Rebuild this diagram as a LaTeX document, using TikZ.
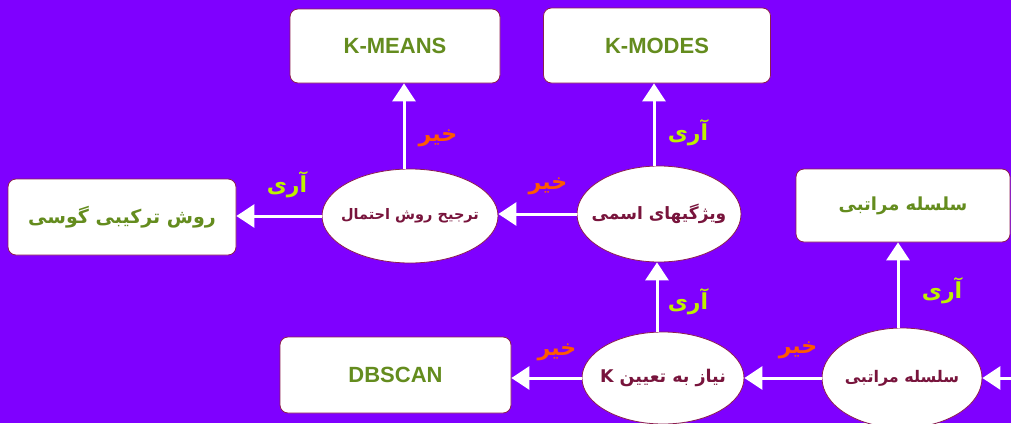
\documentclass[tikz,border=0pt]{standalone}
\usepackage{fontspec}
\setmainfont{Liberation Sans}
\newfontfamily\fa[Script=Arabic]{DejaVu Sans}
\TeXXeTstate=1
\usetikzlibrary{arrows.meta,shapes.geometric}
\definecolor{bg}{RGB}{127,0,255}
\definecolor{edgec}{RGB}{140,30,80}
\definecolor{boxtxt}{RGB}{100,140,30}
\definecolor{elltxt}{RGB}{120,20,60}
\definecolor{nolbl}{RGB}{255,90,0}
\definecolor{yeslbl}{RGB}{190,240,0}
\tikzset{
  resbox/.style={draw=edgec, line width=0.8pt, fill=white, rounded corners=8pt,
    inner sep=0pt, text=boxtxt, font=\bfseries\fontsize{22}{26}\selectfont},
  question/.style={ellipse, draw=edgec, line width=0.8pt, fill=white, inner sep=0pt},
  qtext/.style={text=elltxt, inner sep=0pt, font=\fa\bfseries\fontsize{#1}{20}\selectfont},
  arr/.style={draw=white, line width=3pt, -{Triangle[width=23pt,length=18pt,fill=white]}},
  nolabel/.style={text=nolbl, font=\fa\bfseries\fontsize{22}{26}\selectfont, inner sep=0pt},
  yeslabel/.style={text=yeslbl, font=\fa\bfseries\fontsize{22}{26}\selectfont, inner sep=0pt},
}
\begin{document}
\begin{tikzpicture}[x=1pt,y=-1pt]
  \fill[bg] (0,0) rectangle (1011,423);
  \useasboundingbox (0,0) rectangle (1011,423);
  \clip (0,0) rectangle (1011,423);

  % result boxes
  \node[resbox, minimum width=210, minimum height=74] (kmeans) at (395,46) {K-MEANS};
  \node[resbox, minimum width=227, minimum height=75] (kmodes) at (657,45.5) {K-MODES};
  \node[resbox, minimum width=228, minimum height=76, font=\fa\bfseries\fontsize{19}{24}\selectfont] (gauss) at (122,217) {\beginR روش ترکیبی گوسی\endR};
  \node[resbox, minimum width=214, minimum height=73, font=\fa\bfseries\fontsize{18}{24}\selectfont] (hier) at (903,205.5) {\beginR سلسله مراتبی\endR};
  \node[resbox, minimum width=231, minimum height=76] (dbscan) at (395.5,375) {DBSCAN};

  % decision ellipses (text set as a centred label so the outline keeps its size)
  \node[question, minimum width=176, minimum height=94,
        label={[qtext=14.5]center:{\beginR ترجیح روش احتمال\endR}}] (prob) at (410,216) {};
  \node[question, minimum width=164, minimum height=96,
        label={[qtext=17]center:{\beginR ویژگیهای اسمی\endR}}] (nominal) at (659,214) {};
  \node[question, minimum width=162, minimum height=92,
        label={[qtext=17.5]center:{\beginR نیاز به تعیین K\endR}}] (needk) at (663,378) {};
  \node[question, minimum width=160, minimum height=100,
        label={[qtext=16]center:{\beginR سلسله مراتبی\endR}}] (ishier) at (902,378) {};
  \coordinate (entry) at (1030,378);

  % connectors
  \draw[arr] (entry) -- (ishier.east);
  \draw[arr] (ishier.west) -- (needk.east);
  \draw[arr] ([xshift=-4pt]ishier.north) -- ([xshift=-4pt]ishier.north |- hier.south);
  \draw[arr] (needk.west) -- (needk.west -| dbscan.east);
  \draw[arr] ([xshift=-6pt]needk.north) -- ([xshift=-6pt]needk.north |- nominal.south);
  \draw[arr] (nominal.west) -- (nominal.west -| prob.east);
  \draw[arr] ([xshift=-5pt]nominal.north) -- ([xshift=-5pt]nominal.north |- kmodes.south);
  \draw[arr] (prob.west) -- (prob.west -| gauss.east);
  \draw[arr] ([xshift=-6pt]prob.north) -- ([xshift=-6pt]prob.north |- kmeans.south);

  % branch labels
  \node[nolabel] (n1) at (438,138) {\beginR خیر\endR};
  \node[yeslabel] (y1) at (688,133) {\beginR آری\endR};
  \node[yeslabel] (y2) at (287,185) {\beginR آری\endR};
  \node[nolabel] (n2) at (548,186) {\beginR خیر\endR};
  \node[yeslabel] (y3) at (688,302) {\beginR آری\endR};
  \node[nolabel] (n3) at (557,352) {\beginR خیر\endR};
  \node[nolabel] (n4) at (798,350) {\beginR خیر\endR};
  \node[yeslabel] (y4) at (942,291) {\beginR آری\endR};
\end{tikzpicture}
\end{document}
